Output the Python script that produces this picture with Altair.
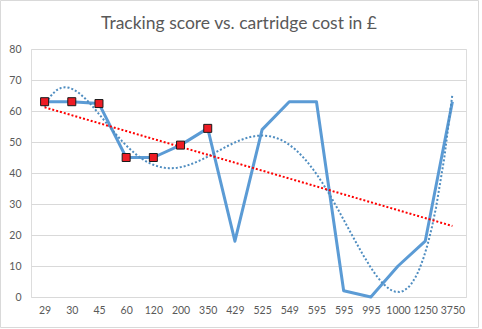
import json
import altair as alt
import pandas as pd

costs = ["29", "30", "45", "60", "120", "200", "350", "429", "525", "549",
         "595", "595", "995", "1000", "1250", "3750"]
scores = [63, 63, 62.4, 45, 45, 49, 54.4, 18, 54, 63, 63, 2, 0, 10, 18, 63]
marked_count = 7  # first seven points carry square markers
title_text = "Tracking score vs. cartridge cost in £"

df = pd.DataFrame({
    "idx": list(range(1, len(costs) + 1)),
    "cost": costs,
    "score": scores,
})

label_expr = json.dumps(costs) + "[datum.value - 1]"
FONT = "Lato"
GREY = "#595959"

x_enc = alt.X(
    "idx:Q",
    scale=alt.Scale(domain=[0.5, len(costs) + 0.5], nice=False, zero=False),
    axis=alt.Axis(
        values=list(range(1, len(costs) + 1)),
        labelExpr=label_expr,
        grid=False, domain=False, ticks=False,
        labelPadding=8, labelFont=FONT, labelFontSize=10.5,
        labelColor=GREY, title=None, labelFlush=False, labelOverlap=False,
    ),
)
y_enc = alt.Y(
    "score:Q",
    scale=alt.Scale(domain=[0, 80], nice=False),
    axis=alt.Axis(
        values=list(range(0, 81, 10)),
        grid=True, gridColor="#D9D9D9", gridWidth=1,
        domain=False, ticks=False, labelPadding=10, labelOverlap=False,
        labelFont=FONT, labelFontSize=10.5, labelColor=GREY, title=None,
    ),
)

base = alt.Chart(df)

series = base.mark_line(color="#5B9BD5", strokeWidth=3, strokeJoin="round").encode(
    x=x_enc, y=y_enc
)

poly = base.transform_regression(
    "idx", "score", method="poly", order=6, extent=[1, len(costs)]
).mark_line(color="#4F8DC0", strokeWidth=2, strokeDash=[2, 2], clip=False).encode(
    x=x_enc, y=y_enc
)

linear = base.transform_regression(
    "idx", "score", method="linear", extent=[1, len(costs)]
).mark_line(color="#FF0000", strokeWidth=2, strokeDash=[2, 2]).encode(
    x=x_enc, y=y_enc
)

markers = base.transform_filter(alt.datum.idx <= marked_count).mark_square(
    size=64, fill="#EE1C25", stroke="#1A1A1A", strokeWidth=1, opacity=1
).encode(x=x_enc, y=y_enc)

deco = alt.Chart(pd.DataFrame({"t": [title_text]}))

frame = deco.mark_rect(
    fill=None, stroke="#D9D9D9", strokeWidth=1, clip=False
).encode(
    x=alt.value(-30.5), x2=alt.value(447.5),
    y=alt.value(-48.5), y2=alt.value(278.5),
)

title = deco.mark_text(
    font=FONT, fontSize=17.5, color=GREY, align="center", baseline="alphabetic"
).encode(text="t:N", x=alt.value(208), y=alt.value(-20))

chart = alt.layer(frame, series, poly, linear, markers, title).properties(
    width=435,
    height=248,
    autosize=alt.AutoSizeParams(type="none"),
    padding={"left": 31, "top": 49, "right": 16, "bottom": 32},
).configure_view(stroke=None).configure(background="white")

chart.save("out.html", embed_options={"renderer": "svg", "actions": False})
